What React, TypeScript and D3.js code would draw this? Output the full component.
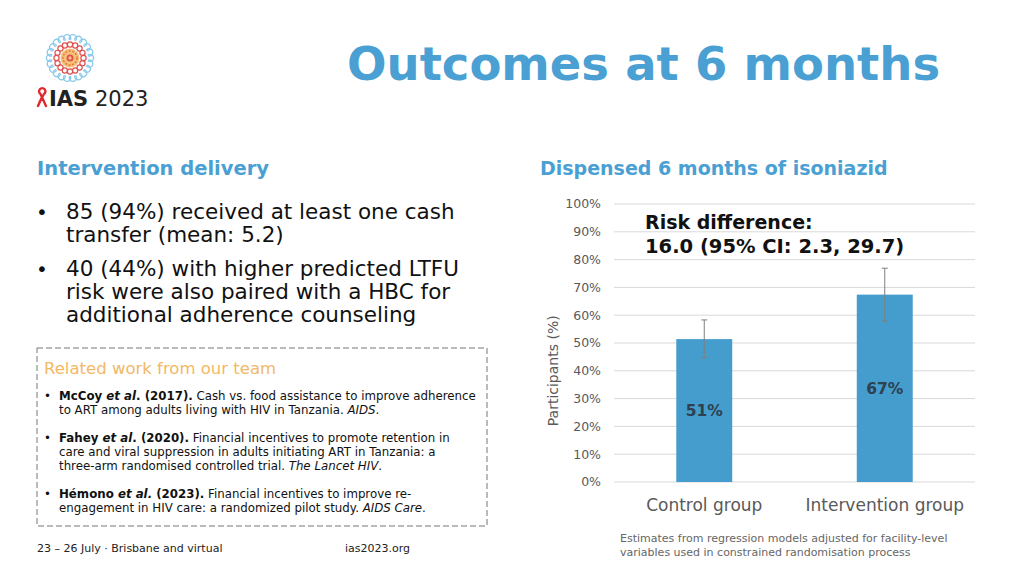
import React from "react";
import * as d3 from "d3";

const categories = ["Control group", "Intervention group"];
const values = [51.4, 67.4];
const ciLow = [44.7, 57.9];
const ciHigh = [58.3, 76.9];
const barLabels = ["51%", "67%"];
const yTicks = [0, 10, 20, 30, 40, 50, 60, 70, 80, 90, 100];

const bullets = [
  ["85 (94%) received at least one cash", "transfer (mean: 5.2)"],
  ["40 (44%) with higher predicted LTFU", "risk were also paired with a HBC for", "additional adherence counseling"],
];

const FONT = "DejaVu Sans, Verdana, sans-serif";
const BLUE = "#4a9fd3";

export default function App() {
  const x = d3.scaleBand<string>().domain(categories).range([614, 975]).paddingInner(0.69).paddingOuter(0.345);
  const y = d3.scaleLinear().domain([0, 100]).range([482, 204]);
  const bw = x.bandwidth();

  const loops = d3.range(16).map((i) => (i / 16) * Math.PI * 2);
  const scallops = d3.range(22).map((i) => (i / 22) * Math.PI * 2);
  const lcx = 70, lcy = 58;

  return (
    <svg width={1024} height={576} style={{ display: "block", position: "absolute", left: 0, top: 0 }} fontFamily={FONT}>
      <rect width={1024} height={576} fill="#fff" />
      {/* Logo */}
      <g>
        {scallops.map((a, i) => (
          <circle key={"s" + i} cx={lcx + 20 * Math.cos(a)} cy={lcy + 20 * Math.sin(a)} r={3.6} fill="none" stroke="#8ccbeb" strokeWidth={1.4} />
        ))}
        <circle cx={lcx} cy={lcy} r={18} fill="#fff" />
        {loops.map((a, i) => (
          <circle key={"l" + i} cx={lcx + 13.5 * Math.cos(a)} cy={lcy + 13.5 * Math.sin(a)} r={2.6} fill="none" stroke="#e0504f" strokeWidth={1.2} />
        ))}
        <circle cx={lcx} cy={lcy} r={9.5} fill="#f6c27a" />
        <circle cx={lcx} cy={lcy} r={7} fill="none" stroke="#e8703a" strokeWidth={1.4} strokeDasharray="2 1.5" />
        <circle cx={lcx} cy={lcy} r={3.5} fill="#e0504f" />
        <circle cx={lcx} cy={lcy} r={1.7} fill="#f6c27a" />
        <path d="M38 106 L42 97 M46 106 L40.5 94 A3.2 3.2 0 1 1 44 94 L39.5 102" fill="none" stroke="#e02a2f" strokeWidth={2.4} strokeLinecap="round" />
        <text x={49} y={106} fontSize={21} fontWeight="bold" fill="#222">IAS</text>
        <text x={95} y={106} fontSize={21} fill="#222">2023</text>
      </g>

      <text x={347} y={80} fontSize={46.5} fontWeight="bold" fill={BLUE}>Outcomes at 6 months</text>

      <text x={37} y={175} fontSize={19.5} fontWeight="bold" fill={BLUE}>Intervention delivery</text>
      <text x={540} y={175} fontSize={19} fontWeight="bold" fill={BLUE}>Dispensed 6 months of isoniazid</text>

      {(() => {
        const out: React.ReactNode[] = [];
        const tops = [219, 276];
        bullets.forEach((lines, bi) => {
          out.push(<text key={"b" + bi} x={36} y={tops[bi]} fontSize={20} fill="#111">•</text>);
          lines.forEach((ln, li) => {
            out.push(
              <text key={"t" + bi + li} x={66} y={tops[bi] + li * 23} fontSize={21.5} fill="#111">{ln}</text>
            );
          });
        });
        return out;
      })()}

      <rect x={37} y={348} width={450} height={178} fill="none" stroke="#777" strokeWidth={1} strokeDasharray="6 3" />
      <text x={44} y={374} fontSize={16.5} fill="#f2b866">Related work from our team</text>
      <g fontSize={11.8} fill="#111">
        <text x={44} y={400}>•</text>
        <text x={59} y={400}><tspan fontWeight="bold">McCoy </tspan><tspan fontWeight="bold" fontStyle="italic">et al</tspan><tspan fontWeight="bold">. (2017).</tspan> Cash vs. food assistance to improve adherence</text>
        <text x={59} y={414}>to ART among adults living with HIV in Tanzania. <tspan fontStyle="italic">AIDS</tspan>.</text>
        <text x={44} y={442}>•</text>
        <text x={59} y={442}><tspan fontWeight="bold">Fahey </tspan><tspan fontWeight="bold" fontStyle="italic">et al</tspan><tspan fontWeight="bold">. (2020).</tspan> Financial incentives to promote retention in</text>
        <text x={59} y={456}>care and viral suppression in adults initiating ART in Tanzania: a</text>
        <text x={59} y={470}>three-arm randomised controlled trial. <tspan fontStyle="italic">The Lancet HIV</tspan>.</text>
        <text x={44} y={498}>•</text>
        <text x={59} y={498}><tspan fontWeight="bold">Hémono </tspan><tspan fontWeight="bold" fontStyle="italic">et al.</tspan><tspan fontWeight="bold"> (2023).</tspan> Financial incentives to improve re-</text>
        <text x={59} y={512}>engagement in HIV care: a randomized pilot study. <tspan fontStyle="italic">AIDS Care</tspan>.</text>
      </g>

      <text x={37} y={552} fontSize={11} fill="#222">23 – 26 July · Brisbane and virtual</text>
      <text x={345} y={552} fontSize={11} fill="#222">ias2023.org</text>

      <g fontSize={11} fill="#666">
        <text x={620} y={542}>Estimates from regression models adjusted for facility-level</text>
        <text x={620} y={556}>variables used in constrained randomisation process</text>
      </g>

      <g>
        {yTicks.map((t) => (
          <g key={t}>
            <line x1={614} x2={975} y1={y(t)} y2={y(t)} stroke="#d9d9d9" strokeWidth={1} />
            <text x={601} y={y(t)} dy="0.35em" textAnchor="end" fontSize={12.5} fill="#595959">{t}%</text>
          </g>
        ))}
        <text transform={`translate(558,${y(40)}) rotate(-90)`} textAnchor="middle" fontSize={14} fill="#595959">Participants (%)</text>
        {categories.map((c, i) => {
          const cx = (x(c) as number) + bw / 2;
          return (
            <g key={c}>
              <rect x={x(c)} y={y(values[i])} width={bw} height={y(0) - y(values[i])} fill="#449dcd" />
              <line x1={cx} x2={cx} y1={y(ciLow[i])} y2={y(ciHigh[i])} stroke="#7f7f7f" strokeWidth={1} />
              <line x1={cx - 3} x2={cx + 3} y1={y(ciLow[i])} y2={y(ciLow[i])} stroke="#7f7f7f" strokeWidth={1} />
              <line x1={cx - 3} x2={cx + 3} y1={y(ciHigh[i])} y2={y(ciHigh[i])} stroke="#7f7f7f" strokeWidth={1} />
              <text x={cx} y={(y(values[i]) + y(0)) / 2} dy="0.35em" textAnchor="middle" fontSize={15.5} fontWeight="bold" fill="#2f4050">{barLabels[i]}</text>
              <text x={cx} y={505} dy="0.35em" textAnchor="middle" fontSize={17} fill="#595959">{c}</text>
            </g>
          );
        })}
        <text x={645} y={229} fontSize={19} fontWeight="bold" fill="#111">Risk difference:</text>
        <text x={645} y={253} fontSize={19.5} fontWeight="bold" fill="#111">16.0 (95% CI: 2.3, 29.7)</text>
      </g>
    </svg>
  );
}
